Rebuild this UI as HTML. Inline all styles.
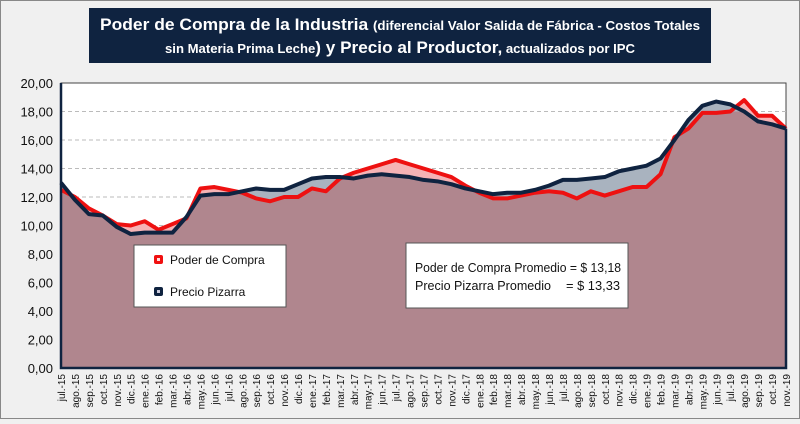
<!DOCTYPE html>
<html><head><meta charset="utf-8"><style>
body{margin:0;width:800px;height:419px;background:#f0f0f0;font-family:"Liberation Sans",sans-serif;overflow:hidden}
</style></head><body>
<svg width="800" height="419" xmlns="http://www.w3.org/2000/svg">
<rect x="0.5" y="0.5" width="799" height="418" fill="#f0f0f0" stroke="#888"/>
<g>
<rect x="89" y="8" width="622" height="55" fill="#0f2340"/>
<text x="400" y="30" text-anchor="middle" fill="#fff" font-weight="bold" font-size="17" textLength="600" lengthAdjust="spacingAndGlyphs">Poder de Compra de la Industria <tspan font-size="13">(diferencial Valor Salida de Fábrica - Costos Totales</tspan></text>
<text x="400" y="53" text-anchor="middle" fill="#fff" font-weight="bold" font-size="13" textLength="470" lengthAdjust="spacingAndGlyphs">sin Materia Prima Leche<tspan font-size="17">) y Precio al Productor,</tspan> actualizados por IPC</text>
</g>
<rect x="61" y="83" width="725" height="285" fill="#fff" stroke="#444"/>
<g id="grid"></g>
<g id="series"></g>
<g id="axes"></g>
<g>
<rect x="134" y="245" width="152" height="62" fill="#fff" stroke="#555"/>
<rect x="154" y="255" width="9" height="9" rx="2" fill="#f01010"/>
<rect x="157" y="258" width="3" height="3" fill="#fdd"/>
<text x="170" y="264" font-size="12" fill="#111">Poder de Compra</text>
<rect x="154" y="287" width="9" height="9" rx="2" fill="#0f2340"/>
<rect x="157" y="290" width="3" height="3" fill="#ccd"/>
<text x="170" y="296" font-size="12" fill="#111">Precio Pizarra</text>
</g>
<g>
<rect x="406" y="243" width="222" height="65" fill="#fff" stroke="#555"/>
<text x="415" y="272" font-size="13" fill="#111" textLength="206" lengthAdjust="spacingAndGlyphs">Poder de Compra Promedio = $ 13,18</text>
<text x="415" y="290" font-size="13" fill="#111" textLength="136" lengthAdjust="spacingAndGlyphs">Precio Pizarra Promedio</text>
<text x="566" y="290" font-size="13" fill="#111" textLength="54" lengthAdjust="spacingAndGlyphs">= $ 13,33</text>
</g>
</svg>
<script>
const categories=["jul.-15","ago.-15","sep.-15","oct.-15","nov.-15","dic.-15","ene.-16","feb.-16","mar.-16","abr.-16","may.-16","jun.-16","jul.-16","ago.-16","sep.-16","oct.-16","nov.-16","dic.-16","ene.-17","feb.-17","mar.-17","abr.-17","may.-17","jun.-17","jul.-17","ago.-17","sep.-17","oct.-17","nov.-17","dic.-17","ene.-18","feb.-18","mar.-18","abr.-18","may.-18","jun.-18","jul.-18","ago.-18","sep.-18","oct.-18","nov.-18","dic.-18","ene.-19","feb.-19","mar.-19","abr.-19","may.-19","jun.-19","jul.-19","ago.-19","sep.-19","oct.-19","nov.-19"];
const poderCompra=[12.5,12.0,11.2,10.7,10.1,10.0,10.3,9.7,10.1,10.5,12.6,12.7,12.5,12.3,11.9,11.7,12.0,12.0,12.6,12.4,13.3,13.7,14.0,14.3,14.6,14.3,14.0,13.7,13.4,12.8,12.3,11.9,11.9,12.1,12.3,12.4,12.3,11.9,12.4,12.1,12.4,12.7,12.7,13.6,16.2,16.8,17.9,17.9,18.0,18.8,17.7,17.7,16.8];
const precioPizarra=[13.0,11.8,10.8,10.7,9.9,9.4,9.5,9.5,9.5,10.6,12.1,12.2,12.2,12.4,12.6,12.5,12.5,12.9,13.3,13.4,13.4,13.3,13.5,13.6,13.5,13.4,13.2,13.1,12.9,12.6,12.4,12.2,12.3,12.3,12.5,12.8,13.2,13.2,13.3,13.4,13.8,14.0,14.2,14.7,16.0,17.4,18.4,18.7,18.5,18.0,17.3,17.1,16.8];
const yTicks=[0,2,4,6,8,10,12,14,16,18,20];
const NS="http://www.w3.org/2000/svg";
const L=61,R=786,T=83,B=368;
const x=i=>L+i*(R-L)/(categories.length-1);
const y=v=>B-v*(B-T)/20;
function mk(tag,attrs,parent){const e=document.createElementNS(NS,tag);for(const k in attrs)e.setAttribute(k,attrs[k]);document.getElementById(parent).appendChild(e);return e;}
yTicks.forEach(v=>{
 if(v>0&&v<20){const g=mk('line',{x1:L,x2:R,y1:y(v),y2:y(v),stroke:'#bbb','stroke-dasharray':'4,3'},'grid');
 
 }
 const t=mk('text',{x:L-8,y:y(v)+5,'text-anchor':'end','font-size':'13',fill:'#111'},'axes');
 t.textContent=v.toFixed(2).replace('.',',');
 
 
});
categories.forEach((c,i)=>{
 const t=mk('text',{transform:`translate(${x(i)+4},374) rotate(-90)`,'text-anchor':'end','font-size':'10',fill:'#111'},'axes');
 t.textContent=c;
 
 
});
function area(arr){let d=`M${x(0)},${y(0)}`;arr.forEach((v,i)=>d+=`L${x(i)},${y(v)}`);return d+`L${x(arr.length-1)},${y(0)}Z`;}
function line(arr){return arr.map((v,i)=>(i?'L':'M')+x(i)+','+y(v)).join('');}
const minArr=poderCompra.map((v,i)=>Math.min(v,precioPizarra[i]));
const a1=mk('path',{d:area(poderCompra),fill:'#f5b3b5'},'series');


const a2=mk('path',{d:area(precioPizarra),fill:'#a9b3bf'},'series');


const a3=mk('path',{d:area(minArr),fill:'#b0868e'},'series');


const l1=mk('path',{d:line(poderCompra),fill:'none',stroke:'#ee1111','stroke-width':'4','stroke-linejoin':'round'},'series');


const l2=mk('path',{d:line(precioPizarra),fill:'none',stroke:'#0f2340','stroke-width':'4','stroke-linejoin':'round'},'series');


const bx=mk('path',{d:`M${L},${T}V${B}H${R}V${y(precioPizarra[precioPizarra.length-1])}`,fill:'none',stroke:'#0f2340','stroke-width':'2.5'},'series');


</script>
</body></html>
